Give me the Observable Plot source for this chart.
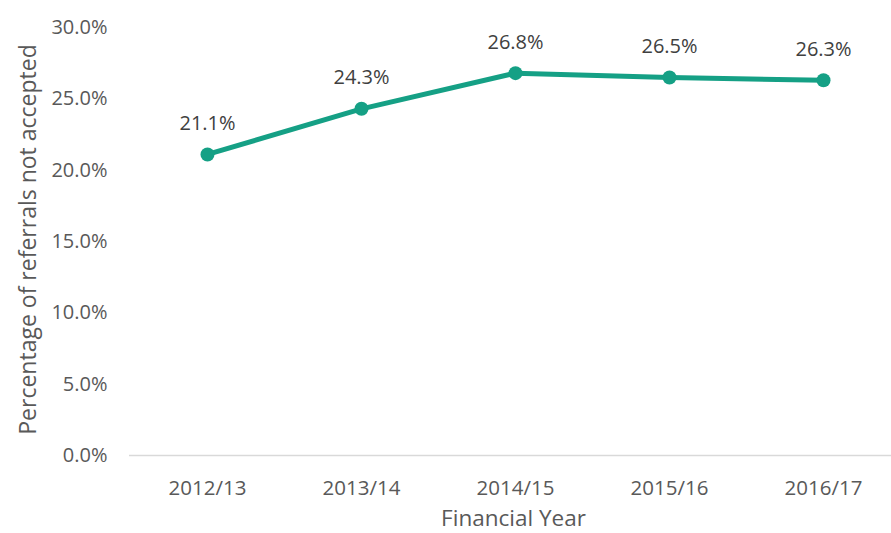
<!DOCTYPE html>
<html>
<head>
<meta charset="utf-8">
<script src="https://cdn.jsdelivr.net/npm/d3@7"></script>
<script src="https://cdn.jsdelivr.net/npm/@observablehq/plot@0.6"></script>
<style>
  html, body { margin: 0; padding: 0; background: #fff; }
  svg { display: block; }
</style>
</head>
<body>
<div id="chart"></div>
<script>
const years = ["2012/13", "2013/14", "2014/15", "2015/16", "2016/17"];
const values = [21.1, 24.3, 26.8, 26.5, 26.3];
const yTicks = [0, 5, 10, 15, 20, 25, 30];

const data = years.map((y, i) => ({year: y, value: values[i]}));
const font = "'Open Sans', sans-serif";
const teal = "#15a085";

const chart = Plot.plot({
  width: 891,
  height: 533,
  marginLeft: 129,
  marginRight: 0,
  marginTop: 27,
  marginBottom: 78,
  style: {fontFamily: font, fontSize: "20px", color: "#595959", background: "#fff"},
  x: {type: "point", domain: years, padding: 0.5, range: [129, 900], label: null},
  y: {domain: [0, 30], label: null},
  marks: [
    Plot.ruleY([0], {stroke: "#d9d9d9", strokeWidth: 1.5}),
    Plot.ruleX([0], {x: () => 129, y1: 0, y2: 30, stroke: "#a6a6a6", strokeWidth: 1.5}),
    Plot.axisY({ticks: yTicks, tickSize: 0, tickPadding: 22, tickFormat: d => d.toFixed(1) + "%", fill: "#595959", fontSize: 20, label: null}),
    Plot.axisX({tickSize: 0, tickPadding: 25, fill: "#595959", fontSize: 20.5, label: null}),
    Plot.line(data, {x: "year", y: "value", stroke: teal, strokeWidth: 5}),
    Plot.dot(data, {x: "year", y: "value", r: 7, fill: teal}),
    Plot.text(data, {x: "year", y: "value", text: d => d.value.toFixed(1) + "%", dy: -31, fill: "#404040", fontSize: 20}),
    Plot.text(["Financial Year"], {frameAnchor: "bottom", textAnchor: "middle", dx: 3, dy: 70, fill: "#595959", fontSize: 22.5}),
    Plot.text(["Percentage of referrals not accepted"], {frameAnchor: "left", textAnchor: "middle", dx: -101, dy: -2, rotate: -90, fill: "#595959", fontSize: 23})
  ]
});
document.getElementById("chart").appendChild(chart);
</script>
</body>
</html>
